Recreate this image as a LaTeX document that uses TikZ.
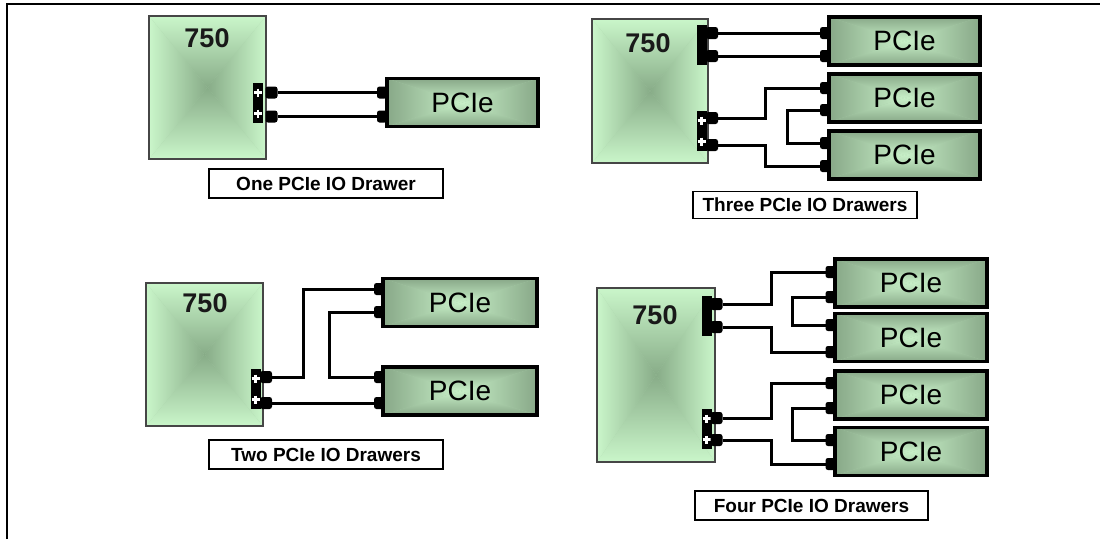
\documentclass[tikz,border=0pt]{standalone}
\usepackage{fontspec}
\setmainfont{Liberation Sans}
\definecolor{boxlight}{RGB}{202,246,202}
\definecolor{boxdark}{RGB}{136,172,136}
\definecolor{drwdark}{RGB}{136,168,136}
\definecolor{drwlight}{RGB}{200,240,200}
\definecolor{edgegray}{RGB}{70,70,70}
\tikzset{
  rectgrad/.style 2 args={path picture={
    \coordinate (gnw) at (path picture bounding box.north west);
    \coordinate (gne) at (path picture bounding box.north east);
    \coordinate (gsw) at (path picture bounding box.south west);
    \coordinate (gse) at (path picture bounding box.south east);
    \coordinate (gc) at (path picture bounding box.center);
    \fill[#1!50!#2] (gnw) rectangle (gse);
    \shade[top color=#1,bottom color=#2] (gnw) -- (gne) -- (gc) -- cycle;
    \shade[top color=#2,bottom color=#1] (gsw) -- (gse) -- (gc) -- cycle;
    \shade[left color=#1,right color=#2] (gnw) -- (gsw) -- (gc) -- cycle;
    \shade[left color=#2,right color=#1] (gne) -- (gse) -- (gc) -- cycle;
  }},
  sys/.style={draw=edgegray, line width=1.5pt, rectgrad={boxlight}{boxdark}, inner sep=0pt, outer sep=0pt},
  drawer/.style={draw=black, line width=3.4pt, rectgrad={drwdark}{drwlight}, minimum width=152pt, minimum height=48pt, inner sep=0pt, outer sep=0pt, font=\fontsize{28}{30}\selectfont},
  sysname/.style={font=\fontsize{27}{30}\selectfont\bfseries, inner sep=0pt, text=black!90},
  caption/.style={draw=black, line width=1.3pt, fill=white, font=\fontsize{19}{22}\selectfont\bfseries, inner sep=0pt},
  port/.style={fill=black, rounded corners=2.5pt, minimum width=12pt, minimum height=12pt, inner sep=0pt, outer sep=0pt},
  dport/.style={port, minimum width=10pt},
  portbar/.style={fill=black, minimum width=10pt, minimum height=40pt, inner sep=0pt, outer sep=0pt},
  wire/.style={line width=3pt},
  pics/plusmark/.style={code={\draw[white,line width=2.2pt] (-4,0) -- (4,0) (0,-4) -- (0,4);}}
}
\begin{document}
\begin{tikzpicture}[x=1pt,y=-1pt]
\useasboundingbox (0,0) rectangle (1100,539);
\draw[line width=1.2pt] (7,539) -- (7,4) -- (1100,4);

% ---------- Panel 1: One drawer ----------
\node[sys, minimum width=117pt, minimum height=143pt] (s1) at (207.5,87.5) {};
\node[sysname] (n1) at (207,38) {750};
\node[portbar] (b1) at (258,103) {};
\pic at ([yshift=10.5pt]b1.center) {plusmark};
\pic at ([yshift=-10.5pt]b1.center) {plusmark};
\node[port] (o1a) at (271.5,92.5) {};
\node[port] (o1b) at (271.5,116.5) {};
\node[drawer, minimum width=151pt] (d1) at (462.5,102.5) {PCIe};
\node[dport] (i1a) at (382,92.5) {};
\node[dport] (i1b) at (382,116.5) {};
\node[caption, minimum width=234pt, minimum height=29pt] (l1) at (326,183.5) {One PCIe IO Drawer};
\draw[wire] (o1a.east) -- (i1a.west);
\draw[wire] (o1b.east) -- (i1b.west);

% ---------- Panel 2: Three drawers ----------
\node[sys, minimum width=116pt, minimum height=144pt] (s2) at (650,91) {};
\node[sysname] (n2) at (648,43) {750};
\node[portbar] (b2a) at (701.5,44.5) {};
\node[portbar] (b2b) at (701.5,131) {};
\pic at ([yshift=10.5pt]b2b.center) {plusmark};
\pic at ([yshift=-10.5pt]b2b.center) {plusmark};
\node[port] (o2a) at (712,33) {};
\node[port] (o2b) at (712,56) {};
\node[port] (o2c) at (712,118) {};
\node[port] (o2d) at (712,145) {};
\node[drawer, minimum width=151pt] (d2a) at (904.5,41) {PCIe};
\node[drawer, minimum width=151pt] (d2b) at (904.5,98) {PCIe};
\node[drawer, minimum width=151pt] (d2c) at (904.5,155) {PCIe};
\node[dport] (i2a1) at (825,33) {};
\node[dport] (i2a2) at (825,56) {};
\node[dport] (i2b1) at (825,88) {};
\node[dport] (i2b2) at (825,110) {};
\node[dport] (i2c1) at (825,143) {};
\node[dport] (i2c2) at (825,166) {};
\coordinate (v2a) at (765,0);
\coordinate (v2b) at (787,0);
\node[caption, minimum width=224pt, minimum height=27pt] (l2) at (805,205) {Three PCIe IO Drawers};
\draw[wire] (o2a.east) -- (i2a1.west);
\draw[wire] (o2b.east) -- (i2a2.west);
\draw[wire] (o2c.east) -- (o2c.east -| v2a) |- (i2b1.west);
\draw[wire] (i2b2.west) -- (i2b2.west -| v2b) |- (i2c1.west);
\draw[wire] (o2d.east) -- (o2d.east -| v2a) |- (i2c2.west);

% ---------- Panel 3: Two drawers ----------
\node[sys, minimum width=117pt, minimum height=143pt] (s3) at (204.5,354.5) {};
\node[sysname] (n3) at (205,303) {750};
\node[portbar] (b3) at (255.5,389) {};
\pic at ([yshift=10.5pt]b3.center) {plusmark};
\pic at ([yshift=-10.5pt]b3.center) {plusmark};
\node[port] (o3a) at (266,377) {};
\node[port] (o3b) at (266,403) {};
\node[drawer, minimum width=154pt] (d3a) at (460,302.5) {PCIe};
\node[drawer, minimum width=154pt] (d3b) at (460,391) {PCIe};
\node[dport] (i3a1) at (379,289) {};
\node[dport] (i3a2) at (379,312) {};
\node[dport] (i3b1) at (379,377) {};
\node[dport] (i3b2) at (379,403) {};
\coordinate (v3a) at (303,0);
\coordinate (v3b) at (329,0);
\node[caption, minimum width=234pt, minimum height=29pt] (l3) at (326,454.5) {Two PCIe IO Drawers};
\draw[wire] (o3a.east) -- (o3a.east -| v3a) |- (i3a1.west);
\draw[wire] (i3a2.west) -- (i3a2.west -| v3b) |- (i3b1.west);
\draw[wire] (o3b.east) -- (i3b2.west);

% ---------- Panel 4: Four drawers ----------
\node[sys, minimum width=118pt, minimum height=174pt] (s4) at (656,375) {};
\node[sysname] (n4) at (655,315) {750};
\node[portbar] (b4a) at (706.5,316) {};
\node[portbar] (b4b) at (706.5,429) {};
\pic at ([yshift=10.5pt]b4b.center) {plusmark};
\pic at ([yshift=-10.5pt]b4b.center) {plusmark};
\node[port] (o4a) at (716.5,304) {};
\node[port] (o4b) at (716.5,327) {};
\node[port] (o4c) at (716.5,418) {};
\node[port] (o4d) at (716.5,440) {};
\node[drawer] (d4a) at (911,283) {PCIe};
\node[drawer] (d4b) at (911,337.5) {PCIe};
\node[drawer] (d4c) at (911,395) {PCIe};
\node[drawer] (d4d) at (911,451.5) {PCIe};
\node[dport] (i4a1) at (830.5,272) {};
\node[dport] (i4a2) at (830.5,297) {};
\node[dport] (i4b1) at (830.5,325) {};
\node[dport] (i4b2) at (830.5,352) {};
\node[dport] (i4c1) at (830.5,383) {};
\node[dport] (i4c2) at (830.5,408) {};
\node[dport] (i4d1) at (830.5,440) {};
\node[dport] (i4d2) at (830.5,464) {};
\coordinate (v4a) at (771,0);
\coordinate (v4b) at (792,0);
\node[caption, minimum width=233pt, minimum height=29pt] (l4) at (811.5,505.5) {Four PCIe IO Drawers};
\draw[wire] (o4a.east) -- (o4a.east -| v4a) |- (i4a1.west);
\draw[wire] (i4a2.west) -- (i4a2.west -| v4b) |- (i4b1.west);
\draw[wire] (o4b.east) -- (o4b.east -| v4a) |- (i4b2.west);
\draw[wire] (o4c.east) -- (o4c.east -| v4a) |- (i4c1.west);
\draw[wire] (i4c2.west) -- (i4c2.west -| v4b) |- (i4d1.west);
\draw[wire] (o4d.east) -- (o4d.east -| v4a) |- (i4d2.west);
\end{tikzpicture}
\end{document}
